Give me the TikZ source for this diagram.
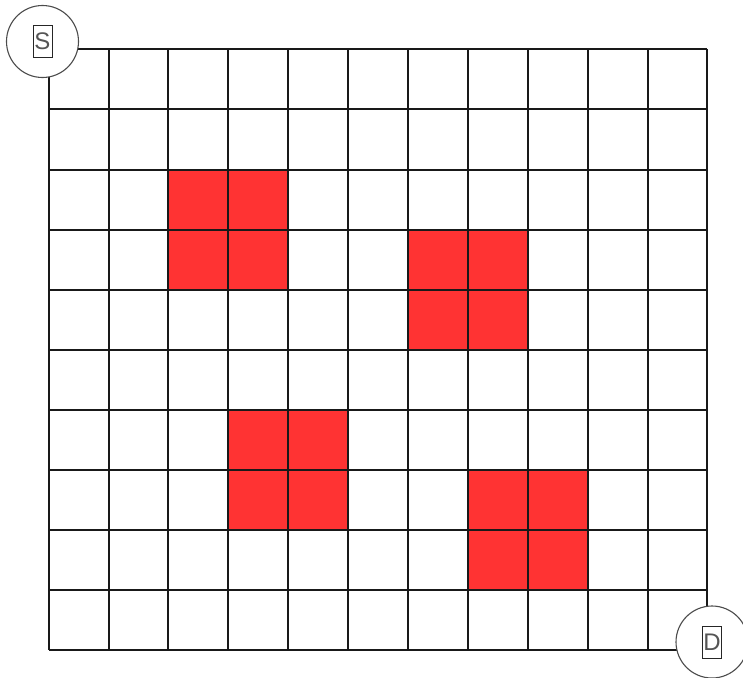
\documentclass[tikz,border=0pt]{standalone}
\usepackage{fontspec}
\setmainfont{Liberation Sans}
\definecolor{cellred}{HTML}{FF3333}
\definecolor{txtgray}{HTML}{555555}
\tikzset{
  redcell/.style={fill=cellred, draw=none},
  gridline/.style={draw=black!90, line width=1.2pt},
  endcircle/.style={circle, draw=black!70, fill=white, line width=1.1pt, minimum size=72pt, inner sep=0pt},
  labelbox/.style={draw=black!85, line width=0.9pt, text=txtgray, minimum width=19pt, minimum height=32pt, inner sep=0pt, font=\fontsize{24}{24}\selectfont}
}
\begin{document}
\begin{tikzpicture}[x=1pt, y=-1pt]
\useasboundingbox[fill=white] (0,0) rectangle (743,677);
% red blocks
\fill[redcell] (168,170) rectangle (288,290);
\fill[redcell] (408,230) rectangle (528,350);
\fill[redcell] (228,410) rectangle (348,530);
\fill[redcell] (468,470) rectangle (588,590);
% grid
\foreach \x in {49,109,168,228,288,348,408,468,528,588,648,707}
  \draw[gridline] (\x,49) -- (\x,650);
\foreach \y in {49,109,170,230,290,350,410,470,530,590,650}
  \draw[gridline] (49,\y) -- (707,\y);
% start / destination
\node[endcircle] (s) at (42.5,41.5) {};
\node[labelbox] (slabel) at (s.center) {S};
\node[endcircle] (d) at (712,642) {};
\node[labelbox] (dlabel) at (d.center) {D};
\end{tikzpicture}
\end{document}
